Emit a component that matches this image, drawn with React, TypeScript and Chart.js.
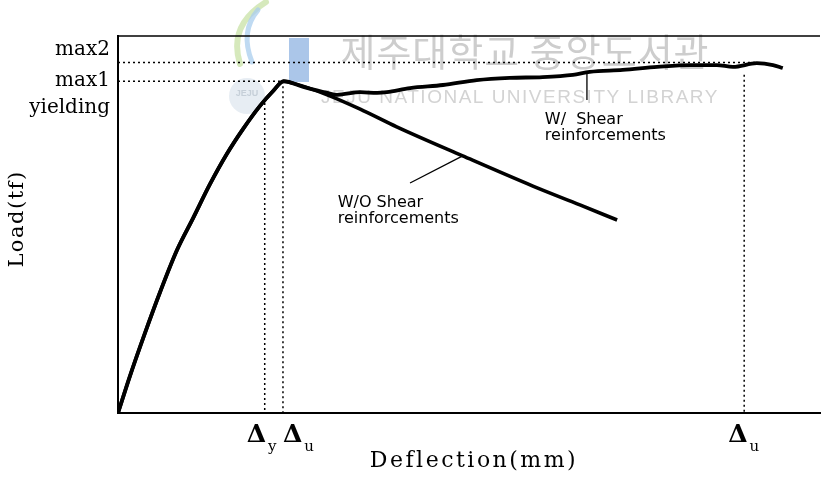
import React, { useEffect, useRef } from 'react';
import { Chart, registerables } from 'chart.js';

Chart.register(...registerables);

// ---- data (deflection in arbitrary mm units, load in arbitrary tf units) ----
const deflectionRise = [0, 1.7, 3.8, 6.0, 8.4, 10.7, 13.1, 15.5, 17.8, 20.2, 22.1, 23.6];
const loadRise = [0, 9.8, 21.0, 32.1, 43.2, 51.7, 60.7, 68.7, 75.3, 81.4, 85.4, 88.0];

const deflectionWithout = [24.9, 29.8, 34.5, 39.7, 49.1, 59.1, 65.8, 71.1];
const loadWithout = [87.5, 84.4, 80.6, 75.9, 68.2, 60.2, 55.2, 51.2];

const deflectionWith = [26.4, 29.8, 31.2, 34.5, 36.9, 38.3, 41.6, 46.3, 51.1, 55.8, 60.5, 64.8, 67.2, 71.9, 76.8, 81.5, 85.3, 87.6, 91.0, 93.3, 94.7];
const loadWith = [86.5, 84.9, 84.4, 85.1, 84.9, 85.1, 86.2, 87.0, 88.3, 88.9, 89.1, 89.7, 90.5, 91.0, 91.8, 92.3, 92.3, 91.8, 92.8, 92.3, 91.5];

const yieldDeflection = 20.9;
const yieldLoad = 82.2;
const ultimateDeflection1 = 23.5;
const max1Load = 88.0;
const ultimateDeflection2 = 89.2;
const ultimateLoad2 = 89.7;
const max2Load = 93.0;
const max2Deflection = 91.0;

const yTickValues = [96.3, 88.1, 80.9];
const yTickLabels = ['max2', 'max1', 'yielding'];

const xTickValues = [yieldDeflection, ultimateDeflection1, ultimateDeflection2];
const xTickSubscripts = ['y', 'u', 'u'];

const withoutLeaderX = [49.1, 41.6];
const withoutLeaderY = [68.2, 61.0];
const withLeaderX = [66.8, 66.8];
const withLeaderY = [89.9, 83.0];

const withoutLabel = ['W/O Shear', 'reinforcements'];
const withLabel = ['W/  Shear', 'reinforcements'];
const withoutLabelAt = { x: 31.3, y: 54.6 };
const withLabelAt = { x: 60.8, y: 76.7 };

const xTitle = 'Deflection(mm)';
const yTitle = 'Load(tf)';

// ---- helpers ----
const pts = (xs: number[], ys: number[]) => xs.map((x, i) => ({ x, y: ys[i] }));

const xLabelOffsets = [-18, 0, -16];

const decorPlugin = {
  id: 'decor',
  beforeDatasetsDraw(chart: any) {
    const ctx: CanvasRenderingContext2D = chart.ctx;
    ctx.save();
    // watermark logo (faint)
    ctx.lineCap = 'round';
    ctx.strokeStyle = 'rgba(200,225,165,0.75)';
    ctx.lineWidth = 6;
    ctx.beginPath();
    ctx.moveTo(266, 2);
    ctx.bezierCurveTo(240, 18, 232, 38, 240, 64);
    ctx.stroke();
    ctx.strokeStyle = 'rgba(170,205,238,0.75)';
    ctx.lineWidth = 5;
    ctx.beginPath();
    ctx.moveTo(258, 10);
    ctx.bezierCurveTo(246, 24, 244, 42, 252, 62);
    ctx.stroke();
    ctx.fillStyle = 'rgba(150,184,228,0.8)';
    ctx.fillRect(289, 38, 20, 44);
    ctx.fillStyle = 'rgba(215,225,235,0.6)';
    ctx.beginPath();
    ctx.arc(247, 96, 18, 0, Math.PI * 2);
    ctx.fill();
    ctx.fillStyle = 'rgba(190,200,210,0.8)';
    ctx.font = 'bold 9px "Liberation Sans"';
    ctx.textAlign = 'center';
    ctx.textBaseline = 'middle';
    ctx.fillText('JEJU', 247, 94);

    ctx.fillStyle = '#cdcdcd';
    ctx.font = '38px "Noto Sans CJK KR"';
    (ctx as any).letterSpacing = '1px';
    ctx.fillText('제주대학교 중앙도서관', 525, 52);
    ctx.fillStyle = '#d3d3d3';
    ctx.font = '19px "Liberation Sans"';
    (ctx as any).letterSpacing = '1.5px';
    ctx.fillText('JEJU NATIONAL UNIVERSITY LIBRARY', 520, 98);
    ctx.restore();
  },
  afterDraw(chart: any) {
    const ctx: CanvasRenderingContext2D = chart.ctx;
    const area = chart.chartArea;
    const xs = chart.scales.x;
    const ys = chart.scales.y;
    ctx.save();
    // top frame line
    ctx.strokeStyle = '#000';
    ctx.lineWidth = 1.5;
    ctx.beginPath();
    ctx.moveTo(area.left, area.top);
    ctx.lineTo(area.right, area.top);
    ctx.stroke();

    ctx.fillStyle = '#000';
    // x tick labels: Δ with subscripts
    ctx.textAlign = 'left';
    ctx.textBaseline = 'alphabetic';
    xTickValues.forEach((v, i) => {
      const px = xs.getPixelForValue(v) + xLabelOffsets[i];
      ctx.font = 'bold 25px "DejaVu Serif"';
      ctx.fillText('Δ', px, 442);
      const w = ctx.measureText('Δ').width;
      ctx.font = '15px "DejaVu Serif"';
      ctx.fillText(xTickSubscripts[i], px + w + 2, 451);
    });

    // axis titles
    ctx.font = '22px "DejaVu Serif"';
    (ctx as any).letterSpacing = '2.5px';
    ctx.textAlign = 'center';
    ctx.fillText(xTitle, 474, 467);
    ctx.font = '21px "DejaVu Serif"';
    (ctx as any).letterSpacing = '1.5px';
    ctx.save();
    ctx.translate(23, 219);
    ctx.rotate(-Math.PI / 2);
    ctx.textBaseline = 'alphabetic';
    ctx.fillText(yTitle, 0, 0);
    ctx.restore();
    (ctx as any).letterSpacing = '0px';

    // annotations
    ctx.font = '16px "DejaVu Sans"';
    ctx.textAlign = 'left';
    const drawLabel = (lines: string[], at: { x: number; y: number }) => {
      const px = xs.getPixelForValue(at.x);
      const py = ys.getPixelForValue(at.y);
      lines.forEach((l, i) => ctx.fillText(l, px, py + i * 16));
    };
    drawLabel(withoutLabel, withoutLabelAt);
    drawLabel(withLabel, withLabelAt);
    ctx.restore();
  },
};

const App = () => {
  const ref = useRef<HTMLCanvasElement>(null);
  useEffect(() => {
    document.body.style.margin = '0';
    const canvas = ref.current!;
    const dotted = {
      borderColor: '#000',
      borderWidth: 1.5,
      borderDash: [2, 3],
      pointRadius: 0,
      fill: false,
      tension: 0,
    };
    const chart = new Chart(canvas, {
      type: 'line',
      data: {
        datasets: [
          {
            label: 'W/O Shear reinforcements',
            data: pts([...deflectionRise, ...deflectionWithout], [...loadRise, ...loadWithout]),
            borderColor: '#000',
            borderWidth: 3.6,
            pointRadius: 0,
            cubicInterpolationMode: 'monotone',
            borderJoinStyle: 'round',
          },
          {
            label: 'W/ Shear reinforcements',
            data: pts([...deflectionRise, ...deflectionWith], [...loadRise, ...loadWith]),
            borderColor: '#000',
            borderWidth: 3.8,
            pointRadius: 0,
            cubicInterpolationMode: 'monotone',
            borderJoinStyle: 'round',
          },
          {
            label: 'leader W/O',
            data: pts(withoutLeaderX, withoutLeaderY),
            borderColor: '#000',
            borderWidth: 1.3,
            pointRadius: 0,
          },
          {
            label: 'leader W/',
            data: pts(withLeaderX, withLeaderY),
            borderColor: '#000',
            borderWidth: 1.3,
            pointRadius: 0,
          },
          { label: 'max2', data: pts([0, max2Deflection], [max2Load, max2Load]), ...dotted },
          { label: 'max1', data: pts([0, ultimateDeflection1], [max1Load, max1Load]), ...dotted },
          { label: 'Δy', data: pts([yieldDeflection, yieldDeflection], [yieldLoad, 0]), ...dotted },
          { label: 'Δu1', data: pts([ultimateDeflection1, ultimateDeflection1], [max1Load, 0]), ...dotted },
          { label: 'Δu2', data: pts([ultimateDeflection2, ultimateDeflection2], [ultimateLoad2, 0]), ...dotted },
        ] as any,
      },
      options: {
        responsive: false,
        animation: false,
        layout: { padding: { left: 8, top: 36, right: 2, bottom: 70 } },
        plugins: { legend: { display: false }, tooltip: { enabled: false } },
        scales: {
          x: {
            type: 'linear',
            min: 0,
            max: 100,
            grid: { display: false, drawTicks: false },
            border: { display: true, color: '#000', width: 2 },
            ticks: { display: false },
            afterFit: (s: any) => {
              s.height = 0;
            },
          },
          y: {
            type: 'linear',
            min: 0,
            max: 100,
            grid: { display: false, drawTicks: false },
            border: { display: true, color: '#000', width: 2 },
            afterBuildTicks: (s: any) => {
              s.ticks = yTickValues.map((v) => ({ value: v }));
            },
            ticks: {
              autoSkip: false,
              padding: 8,
              color: '#000',
              font: { family: '"DejaVu Serif"', size: 20 },
              callback: (_v: any, i: number) => yTickLabels[i],
            },
            afterFit: (s: any) => {
              s.width = 110;
            },
          },
        },
      } as any,
      plugins: [decorPlugin],
    });
    return () => chart.destroy();
  }, []);
  return (
    <div style={{ width: 822, height: 483 }}>
      <canvas ref={ref} width={822} height={483} style={{ display: 'block' }} />
    </div>
  );
};

export default App;
